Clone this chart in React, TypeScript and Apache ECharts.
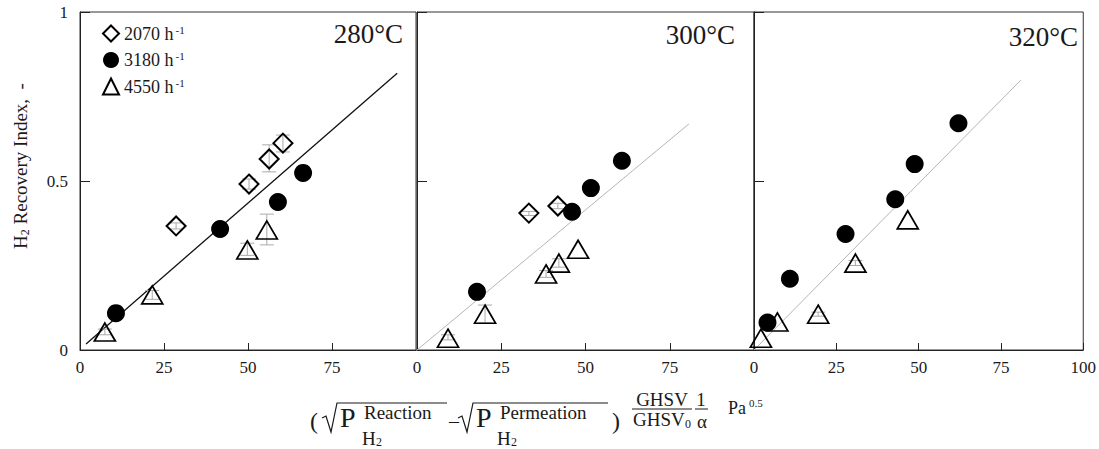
import React, { useEffect, useRef } from "react";
import * as echarts from "echarts";

const SERIF = "Liberation Serif, Times New Roman, serif";
const INK = "#1a1a1a";

// panel temperatures
const panels = ["280°C", "300°C", "320°C"];
const legendNames = ["2070", "3180", "4550"];

// 280 °C
const d2070_280 = [[28.6, 0.367], [50.3, 0.491], [56.3, 0.565], [60.4, 0.612]];
const d3180_280 = [[10.7, 0.109], [41.7, 0.358], [58.9, 0.438], [66.4, 0.524]];
const d4550_280 = [[7.4, 0.053], [21.5, 0.163], [49.8, 0.296], [55.6, 0.355]];
const fit280 = [[1.8, 0.018], [94.4, 0.819]];
const err280 = [
  [28.6, 0.358, 0.376], [50.3, 0.476, 0.506], [56.3, 0.527, 0.607], [60.4, 0.586, 0.636],
  [7.4, 0.045, 0.062], [21.5, 0.15, 0.176], [49.8, 0.28, 0.316], [55.6, 0.311, 0.402],
];

// 300 °C
const d2070_300 = [[33.2, 0.405], [41.8, 0.426]];
const d3180_300 = [[17.8, 0.172], [46.0, 0.409], [51.6, 0.479], [60.8, 0.56]];
const d4550_300 = [[9.2, 0.035], [20.2, 0.106], [38.3, 0.225], [42.1, 0.257], [47.8, 0.298]];
const fit300 = [[0, 0], [80.7, 0.669]];
const err300 = [
  [33.2, 0.398, 0.41], [41.8, 0.418, 0.434],
  [9.2, 0.03, 0.045], [20.2, 0.08, 0.133], [38.3, 0.215, 0.235], [42.1, 0.245, 0.27],
];

// 320 °C
const d3180_320 = [[4.1, 0.081], [10.9, 0.211], [27.8, 0.343], [42.9, 0.446], [48.8, 0.55], [62.1, 0.671]];
const d4550_320 = [[2.1, 0.035], [7.1, 0.083], [19.5, 0.106], [30.8, 0.257], [46.7, 0.385]];
const fit320 = [[0, 0], [81.1, 0.799]];
const err320 = [[19.5, 0.1, 0.112], [30.8, 0.25, 0.265]];

const panelData = [
  { d2070: d2070_280, d3180: d3180_280, d4550: d4550_280, fit: fit280, err: err280, fitColor: "#111", fitWidth: 1.3 },
  { d2070: d2070_300, d3180: d3180_300, d4550: d4550_300, fit: fit300, err: err300, fitColor: "#b5b5b5", fitWidth: 1 },
  { d2070: [], d3180: d3180_320, d4550: d4550_320, fit: fit320, err: err320, fitColor: "#b5b5b5", fitWidth: 1 },
];

const gridBoxes = [
  { left: 80, width: 336 },
  { left: 417, width: 337 },
  { left: 754, width: 338 },
];
const labelRight = [403, 735, 1078];
const labelY = [34, 35, 37];

export default function App() {
  const ref = useRef<HTMLDivElement>(null);
  useEffect(() => {
    if (!ref.current) return;
    const chart = echarts.init(ref.current, undefined, { renderer: "svg" });

    const grids = gridBoxes.map((g) => ({
      left: g.left, width: g.width, top: 12, height: 338,
      show: true, borderColor: "#333", borderWidth: 1, backgroundColor: "transparent",
    }));
    const xAxes = gridBoxes.map((_, i) => ({
      type: "value", gridIndex: i, min: 0, max: 100, interval: 25,
      axisLine: { show: true, lineStyle: { color: "#222", width: 1 } },
      axisTick: { show: true, inside: true, length: 7, lineStyle: { color: "#222" } },
      splitLine: { show: false },
      axisLabel: { show: true, fontFamily: SERIF, fontSize: 17, color: INK, margin: 9, showMaxLabel: i === 2 },
    }));
    const yAxes = gridBoxes.map((_, i) => ({
      type: "value", gridIndex: i, min: 0, max: 1, interval: 0.5,
      axisLine: { show: true, lineStyle: { color: "#222", width: 1 } },
      axisTick: { show: true, inside: true, length: 10, lineStyle: { color: "#222" } },
      splitLine: { show: false },
      axisLabel: { show: i === 0, fontFamily: SERIF, fontSize: 17, color: INK, margin: 12 },
    }));

    const series: any[] = [];
    panelData.forEach((p, i) => {
      series.push({
        type: "line", xAxisIndex: i, yAxisIndex: i, data: p.fit, symbol: "none",
        lineStyle: { color: p.fitColor, width: p.fitWidth }, silent: true, z: 1,
      });
      series.push({
        type: "custom", xAxisIndex: i, yAxisIndex: i, data: p.err, z: 2, silent: true,
        encode: { x: 0, y: [1, 2] },
        renderItem: (params: any, api: any) => {
          const x = api.value(0);
          const a = api.coord([x, api.value(1)]);
          const b = api.coord([x, api.value(2)]);
          const w = 7;
          const st = { stroke: "#aaa", lineWidth: 1 };
          return {
            type: "group",
            children: [
              { type: "line", shape: { x1: a[0], y1: a[1], x2: b[0], y2: b[1] }, style: st },
              { type: "line", shape: { x1: a[0] - w, y1: a[1], x2: a[0] + w, y2: a[1] }, style: st },
              { type: "line", shape: { x1: b[0] - w, y1: b[1], x2: b[0] + w, y2: b[1] }, style: st },
            ],
          };
        },
      });
      series.push({
        name: "2070", type: "scatter", xAxisIndex: i, yAxisIndex: i, data: p.d2070,
        symbol: "diamond", symbolSize: 19, z: 3,
        itemStyle: { color: "rgba(255,255,255,0)", borderColor: "#000", borderWidth: 2, opacity: 1 },
      });
      series.push({
        name: "3180", type: "scatter", xAxisIndex: i, yAxisIndex: i, data: p.d3180,
        symbol: "circle", symbolSize: 18, z: 3,
        itemStyle: { color: "#000", borderColor: "#000", borderWidth: 0, opacity: 1 },
      });
      series.push({
        name: "4550", type: "scatter", xAxisIndex: i, yAxisIndex: i, data: p.d4550,
        symbol: "triangle", symbolSize: [21, 18], z: 3,
        itemStyle: { color: "rgba(255,255,255,0)", borderColor: "#000", borderWidth: 1.7, opacity: 1 },
      });
    });

    const t = (text: string, x: number, y: number, size: number, align = "left") => ({
      type: "text", x, y, silent: true,
      style: { text, fontFamily: SERIF, fontSize: size, fill: INK, textAlign: align, textVerticalAlign: "middle" },
    });
    const ln = (x1: number, y1: number, x2: number, y2: number, w = 1.2) => ({
      type: "line", silent: true, shape: { x1, y1, x2, y2 }, style: { stroke: INK, lineWidth: w },
    });
    const pl = (points: number[][]) => ({
      type: "polyline", silent: true, shape: { points }, style: { stroke: INK, lineWidth: 1.2, fill: "none" },
    });

    const graphic: any[] = [
      ...panels.map((name, i) => ({
        type: "text", x: labelRight[i], y: labelY[i], silent: true,
        style: { text: name, fontFamily: SERIF, fontSize: 27, fill: INK, textAlign: "right", textVerticalAlign: "middle" },
      })),
      {
        type: "text", x: 20, y: 166, rotation: Math.PI / 2, silent: true,
        style: {
          text: "{a|H}{b|2}{a| Recovery Index,  -}",
          textAlign: "center", textVerticalAlign: "middle", fill: INK,
          rich: {
            a: { fontFamily: SERIF, fontSize: 19, lineHeight: 24, fill: INK },
            b: { fontFamily: SERIF, fontSize: 12, lineHeight: 24, fill: INK, padding: [10, 0, 0, 0] },
          },
        },
      },
      // x-axis title formula
      t("(", 310, 421, 24),
      pl([[322, 418], [326, 416], [331, 432], [337, 403], [447, 403]]),
      t("P", 340, 417, 28),
      t("Reaction", 364, 412, 19),
      t("H", 362, 438, 19),
      t("2", 376, 442, 12),
      t("–", 449, 421, 20),
      pl([[458, 418], [462, 416], [467, 432], [473, 403], [608, 403]]),
      t("P", 476, 417, 28),
      t("Permeation", 500, 412, 19),
      t("H", 497, 438, 19),
      t("2", 511, 442, 12),
      t(")", 612, 421, 24),
      t("GHSV", 662, 399, 19, "center"),
      ln(632, 409, 692, 409, 1),
      t("GHSV", 633, 419, 19),
      t("0", 685, 424, 12),
      t("1", 701, 399, 19, "center"),
      ln(695, 409, 708, 409, 1),
      t("α", 702, 421, 19, "center"),
      t("Pa", 728, 408, 18),
      t("0.5", 749, 403, 11),
    ];

    chart.setOption({
      animation: false,
      backgroundColor: "#fff",
      grid: grids,
      xAxis: xAxes,
      yAxis: yAxes,
      legend: {
        data: legendNames, orient: "vertical", left: 97, top: 19,
        itemWidth: 16, itemHeight: 16, itemGap: 8, selectedMode: false,
        formatter: (n: string) => `{n|${n} h}{s|-1}`,
        textStyle: {
          fontFamily: SERIF, fontSize: 18, color: INK,
          rich: {
            n: { fontFamily: SERIF, fontSize: 18, color: INK },
            s: { fontFamily: SERIF, fontSize: 11, color: INK, padding: [0, 0, 8, 2] },
          },
        },
      },
      series,
      graphic,
    });
    return () => chart.dispose();
  }, []);
  return <div ref={ref} style={{ position: "fixed", left: 0, top: 0, width: 1099, height: 449 }} />;
}
